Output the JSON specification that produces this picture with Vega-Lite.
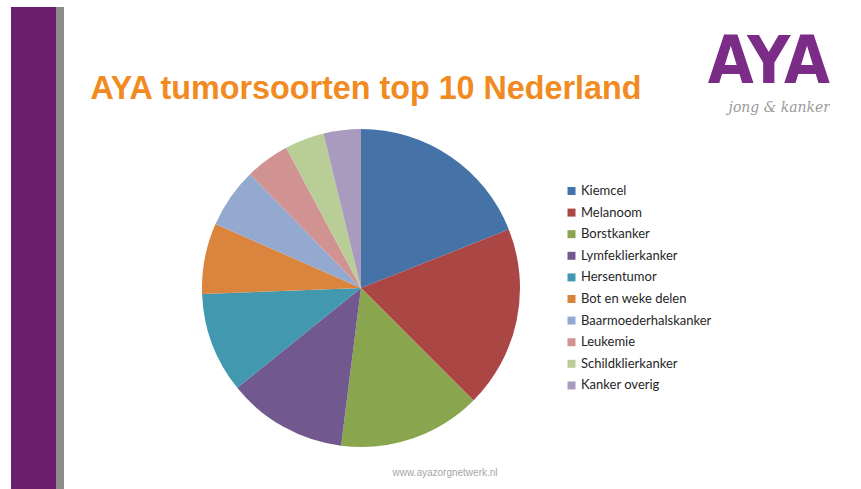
{
  "$schema": "https://vega.github.io/schema/vega-lite/v6.json",
  "background": "white",
  "padding": {"left": 7, "top": 3, "right": 0, "bottom": 0},
  "spacing": 0,
  "config": {
    "view": {"stroke": null},
    "font": "Liberation Sans",
    "title": {"offset": 0}
  },
  "datasets": {
    "tumors": [
      {"nr": 1, "soort": "Kiemcel", "pct": 19.0},
      {"nr": 2, "soort": "Melanoom", "pct": 18.5},
      {"nr": 3, "soort": "Borstkanker", "pct": 14.5},
      {"nr": 4, "soort": "Lymfeklierkanker", "pct": 12.2},
      {"nr": 5, "soort": "Hersentumor", "pct": 10.2},
      {"nr": 6, "soort": "Bot en weke delen", "pct": 7.2},
      {"nr": 7, "soort": "Baarmoederhalskanker", "pct": 6.1},
      {"nr": 8, "soort": "Leukemie", "pct": 4.5},
      {"nr": 9, "soort": "Schildklierkanker", "pct": 4.0},
      {"nr": 10, "soort": "Kanker overig", "pct": 3.8}
    ]
  },
  "hconcat": [
    {
      "width": 49,
      "height": 482,
      "view": {"fill": "#6B1E6E", "stroke": "#8C8C8C", "strokeWidth": 8, "strokeDash": [0, 49, 482, 1200]},
      "data": {"values": []},
      "mark": "text",
      "encoding": {}
    },
    {
      "spacing": 0,
      "vconcat": [
        {
          "spacing": 0,
          "hconcat": [
            {
              "width": 604,
              "height": 66,
              "data": {"values": []},
              "mark": "text",
              "encoding": {},
              "title": {
                "text": "AYA tumorsoorten top 10 Nederland",
                "orient": "bottom",
                "anchor": "middle",
                "offset": 0,
                "font": "Liberation Sans",
                "fontSize": 32.3,
                "fontWeight": "bold",
                "color": "#F18A21",
                "baseline": "top"
              }
            },
            {
              "width": 162,
              "height": 24,
              "data": {"values": []},
              "mark": "text",
              "encoding": {},
              "title": {
                "text": "AYA",
                "subtitle": "jong & kanker",
                "orient": "bottom",
                "anchor": "end",
                "offset": 0,
                "font": "Liberation Sans Narrow, DejaVu Sans Condensed, Liberation Sans",
                "fontSize": 66,
                "fontWeight": "bold",
                "color": "#7B2C87",
                "baseline": "top",
                "subtitleFont": "DejaVu Serif",
                "subtitleFontStyle": "italic",
                "subtitleFontSize": 14,
                "subtitleColor": "#9A9A9A",
                "subtitlePadding": 4
              }
            }
          ]
        },
        {
          "width": 594,
          "height": 346,
          "data": {"name": "tumors"},
          "mark": {"type": "arc", "outerRadius": 159},
          "encoding": {
            "theta": {"field": "pct", "type": "quantitative", "stack": true},
            "order": {"field": "nr", "type": "quantitative"},
            "color": {
              "field": "soort",
              "type": "nominal",
              "scale": {
                "domain": ["Kiemcel", "Melanoom", "Borstkanker", "Lymfeklierkanker", "Hersentumor", "Bot en weke delen", "Baarmoederhalskanker", "Leukemie", "Schildklierkanker", "Kanker overig"],
                "range": ["#4572A7", "#AA4643", "#89A54E", "#71588F", "#4198AF", "#DB843D", "#93A9CF", "#D19392", "#B9CD96", "#A99BBD"]
              },
              "legend": {
                "title": null,
                "orient": "none",
                "legendX": 554,
                "legendY": 177.5,
                "padding": 0,
                "symbolType": "square",
                "symbolSize": 64,
                "symbolStrokeWidth": 0,
                "symbolOpacity": 1,
                "labelFont": "Lato",
                "labelFontSize": 13,
                "labelColor": "#262626",
                "labelOffset": 3,
                "rowPadding": 7.6
              }
            }
          }
        },
        {
          "width": 762,
          "height": 1,
          "data": {"values": []},
          "mark": "text",
          "encoding": {},
          "title": {
            "text": "www.ayazorgnetwerk.nl",
            "orient": "bottom",
            "anchor": "middle",
            "offset": 6,
            "font": "Liberation Sans",
            "fontSize": 10,
            "fontWeight": "normal",
            "color": "#A6A6A6",
            "baseline": "top"
          }
        }
      ]
    }
  ]
}
